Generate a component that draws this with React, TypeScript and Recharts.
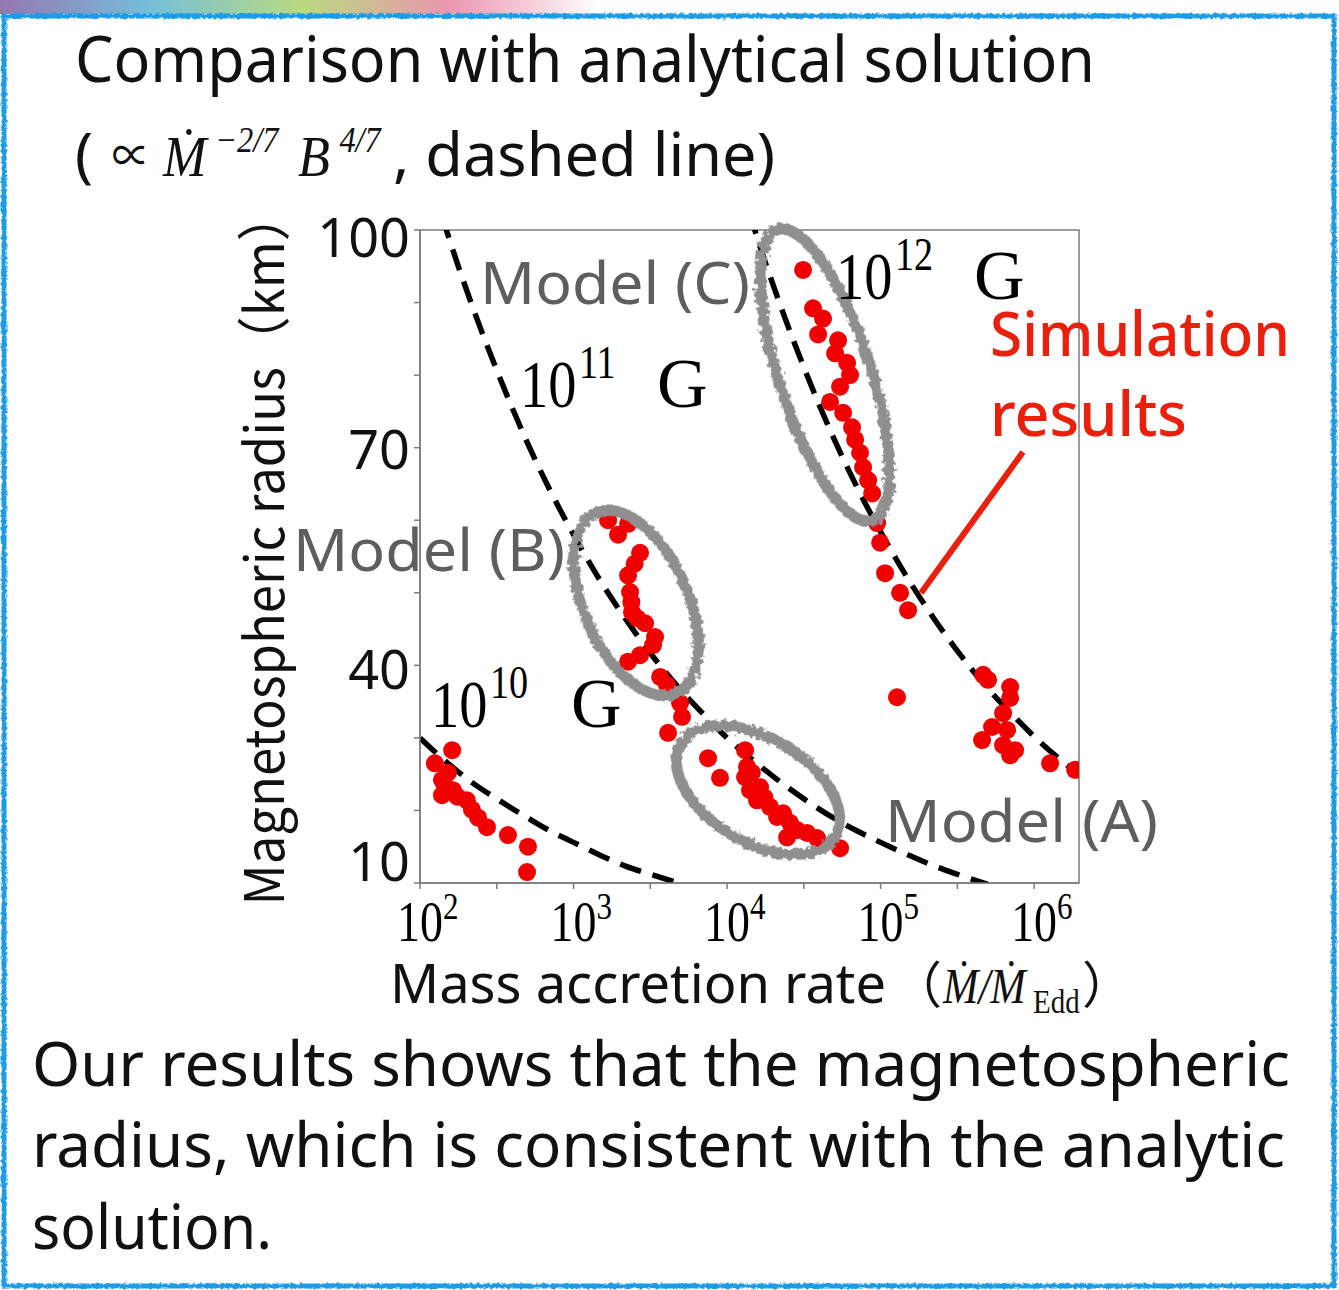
import React from "react";
import {
  ComposedChart,
  Line,
  ReferenceArea,
  ReferenceDot,
  Scatter,
  XAxis,
  YAxis,
} from "recharts";

// mass accretion rate (Mdot / Mdot_Edd) vs magnetospheric radius (km)
const lowFieldPoints = [
  { m: 125, r: 26.5 }, { m: 162, r: 28.3 }, { m: 152, r: 25.2 }, { m: 139, r: 24.2 },
  { m: 145, r: 23.5 }, { m: 139, r: 22.1 }, { m: 164, r: 22.8 }, { m: 175, r: 21.9 },
  { m: 202, r: 21.4 }, { m: 218, r: 20.1 }, { m: 239, r: 19.0 }, { m: 273, r: 17.7 },
  { m: 374, r: 16.6 }, { m: 505, r: 15.0 }, { m: 498, r: 11.5 },
];

const modelBPoints = [
  { m: 1679, r: 60.0 }, { m: 2265, r: 59.5 }, { m: 1950, r: 58.0 }, { m: 2712, r: 55.5 },
  { m: 2500, r: 54.0 }, { m: 2265, r: 52.4 }, { m: 2335, r: 50.1 }, { m: 2380, r: 48.7 },
  { m: 2404, r: 47.3 }, { m: 2600, r: 46.5 }, { m: 2924, r: 45.8 }, { m: 3396, r: 43.9 },
  { m: 3296, r: 42.8 }, { m: 2712, r: 41.4 }, { m: 2265, r: 40.5 }, { m: 3664, r: 38.4 },
  { m: 4064, r: 37.3 }, { m: 4943, r: 34.8 }, { m: 5090, r: 32.9 }, { m: 4130, r: 30.7 },
];

const modelAPoints = [
  { m: 7516, r: 27.2 }, { m: 8995, r: 24.5 }, { m: 13100, r: 28.3 }, { m: 13490, r: 26.0 },
  { m: 14500, r: 25.2 }, { m: 13100, r: 24.6 }, { m: 14120, r: 22.8 }, { m: 15670, r: 21.4 },
  { m: 16400, r: 23.2 }, { m: 17500, r: 21.8 }, { m: 19050, r: 20.5 }, { m: 21180, r: 19.1 },
  { m: 23170, r: 19.6 }, { m: 24600, r: 16.3 }, { m: 25700, r: 18.3 }, { m: 28580, r: 17.3 },
  { m: 33190, r: 16.9 }, { m: 38550, r: 16.2 }, { m: 54450, r: 14.8 },
];

const modelCPoints = [
  { m: 31260, r: 94.5 }, { m: 36310, r: 89.2 }, { m: 42170, r: 87.8 }, { m: 39170, r: 85.6 },
  { m: 52840, r: 84.8 }, { m: 50550, r: 83.0 }, { m: 60530, r: 81.7 }, { m: 63260, r: 80.0 },
  { m: 54450, r: 78.4 }, { m: 46880, r: 76.3 }, { m: 57000, r: 74.8 }, { m: 65160, r: 72.8 },
  { m: 68230, r: 71.1 }, { m: 73470, r: 69.3 }, { m: 76900, r: 67.3 }, { m: 82990, r: 65.5 },
  { m: 88100, r: 63.7 }, { m: 94900, r: 59.6 }, { m: 99300, r: 56.9 }, { m: 106900, r: 52.7 },
  { m: 133900, r: 50.0 }, { m: 151000, r: 47.6 },
];

const highRatePoints = [
  { m: 127900, r: 35.6 }, { m: 465600, r: 38.7 }, { m: 501200, r: 38.0 }, { m: 698000, r: 37.0 },
  { m: 698000, r: 35.5 }, { m: 628000, r: 33.4 }, { m: 532000, r: 31.5 }, { m: 667000, r: 31.1 },
  { m: 458000, r: 29.7 }, { m: 628000, r: 29.0 }, { m: 751600, r: 28.3 }, { m: 698000, r: 27.6 },
  { m: 1270000, r: 26.5 }, { m: 1850000, r: 25.6 },
];

// analytical curves (dashed)
const curve10G = [
  { m: 100, r: 30.0 }, { m: 150, r: 26.6 }, { m: 220, r: 23.8 }, { m: 316, r: 21.6 },
  { m: 500, r: 19.0 }, { m: 700, r: 17.2 }, { m: 1000, r: 15.6 }, { m: 1500, r: 13.8 },
  { m: 2200, r: 12.3 }, { m: 3160, r: 11.2 }, { m: 5000, r: 9.9 },
];

const curve11G = [
  { m: 120, r: 106.3 }, { m: 150, r: 99.7 }, { m: 220, r: 89.4 }, { m: 316, r: 80.7 },
  { m: 500, r: 70.7 }, { m: 700, r: 64.2 }, { m: 1000, r: 58.0 }, { m: 1500, r: 51.6 },
  { m: 2200, r: 46.3 }, { m: 3160, r: 41.7 }, { m: 5000, r: 36.6 }, { m: 7000, r: 33.3 },
  { m: 10000, r: 30.0 }, { m: 15000, r: 26.8 }, { m: 22000, r: 24.0 }, { m: 31600, r: 21.6 },
  { m: 50000, r: 18.9 }, { m: 70000, r: 17.2 }, { m: 100000, r: 15.6 }, { m: 150000, r: 13.9 },
  { m: 220000, r: 12.4 }, { m: 316000, r: 11.2 }, { m: 500000, r: 9.8 },
];

const curve12G = [
  { m: 14000, r: 102.4 }, { m: 15000, r: 100.3 }, { m: 22000, r: 89.9 }, { m: 31600, r: 81.1 },
  { m: 50000, r: 71.1 }, { m: 70000, r: 64.6 }, { m: 100000, r: 58.4 }, { m: 150000, r: 52.0 },
  { m: 220000, r: 46.6 }, { m: 316000, r: 42.0 }, { m: 500000, r: 36.8 }, { m: 700000, r: 33.5 },
  { m: 1000000, r: 30.2 }, { m: 1500000, r: 26.9 }, { m: 2000000, r: 24.8 },
];

const xTicks = [100, 316.2, 1000, 3162, 10000, 31623, 100000, 316228, 1000000];
const xTickExponents = ["2", "", "3", "", "4", "", "5", "", "6"];
const yTicks = [10, 20, 30, 40, 50, 60, 70, 80, 90, 100];
const yTickLabels = ["10", "", "", "40", "", "", "70", "", "", "100"];

// grey hand-drawn rings around groups of runs
const groupRings = [
  { id: "ringB", m: 2553, r: 48.6, rx: 52, ry: 99, angle: -24 },
  { id: "ringC", m: 43450, r: 80.0, rx: 46, ry: 153, angle: -18 },
  { id: "ringA", m: 15920, r: 22.8, rx: 90, ry: 52, angle: 31 },
];

const SANS = "'Noto Sans', 'Noto Sans CJK JP', sans-serif";
const CJK = "'Noto Sans CJK JP', 'Noto Sans', sans-serif";
const SERIF = "'Liberation Serif', 'DejaVu Serif', serif";
const RED = "#f00000";
const AXIS = "#7c7c7c";
const GREY_TEXT = "#5e5e5e";

const yLabelShift = [-21, 0, 0, 5, 0, 0, 2, 0, 0, 8];

function XTick(props: any) {
  const { x, y, index } = props;
  const exp = xTickExponents[index];
  if (!exp) return null;
  return (
    <g transform={`translate(${x - 23},${y + 50}) scale(0.82,1)`}>
      <text x={0} y={0} fontFamily={SERIF} fontSize={56} fill="#000">
        10
        <tspan fontSize={38} dy={-22}>
          {exp}
        </tspan>
      </text>
    </g>
  );
}

function YTick(props: any) {
  const { x, y, index } = props;
  const label = yTickLabels[index];
  if (!label) return null;
  return (
    <text
      x={x - 2}
      y={y + 19 + yLabelShift[index]}
      textAnchor="end"
      fontFamily={SANS}
      fontSize={54}
      fill="#111"
    >
      {label}
    </text>
  );
}

function Dot(props: any) {
  return <circle cx={props.cx} cy={props.cy} r={9} fill={RED} />;
}

function Ring({ cx, cy, id, rx, ry, angle }: any) {
  return (
    <g>
      <defs>
        <filter id={id} x="-20%" y="-20%" width="140%" height="140%">
          <feTurbulence type="fractalNoise" baseFrequency="0.22" numOctaves={2} seed={3} />
          <feDisplacementMap in="SourceGraphic" scale={8} />
        </filter>
      </defs>
      <ellipse
        cx={cx}
        cy={cy}
        rx={rx}
        ry={ry}
        transform={`rotate(${angle} ${cx} ${cy})`}
        fill="none"
        stroke="#8f8f8f"
        strokeWidth={11}
        filter={`url(#${id})`}
      />
    </g>
  );
}

function SerifField({ x, y, exp, gx }: any) {
  // 10^exp G in the slide's condensed serif
  return (
    <g fontFamily={SERIF} fill="#000">
      <g transform={`translate(${x},${y}) scale(0.83,1)`}>
        <text x={0} y={0} fontSize={68}>
          10
          <tspan fontSize={46} dy={-29} dx={3}>
            {exp}
          </tspan>
        </text>
      </g>
      <text x={x + gx} y={y} fontSize={70}>
        G
      </text>
    </g>
  );
}

function SlideText() {
  return (
    <svg
      width={1339}
      height={1290}
      style={{ position: "absolute", left: 0, top: 0, pointerEvents: "none" }}
    >
      <defs>
        <filter id="roughBorder" x="-2%" y="-2%" width="104%" height="104%">
          <feTurbulence type="fractalNoise" baseFrequency="0.3" numOctaves={2} seed={7} />
          <feDisplacementMap in="SourceGraphic" scale={4} />
        </filter>
        <linearGradient id="topStrip" x1="0" x2="1" y1="0" y2="0">
          <stop offset="0" stopColor="#6a3d8f" />
          <stop offset="0.25" stopColor="#3aa3c9" />
          <stop offset="0.5" stopColor="#9bc94a" />
          <stop offset="0.75" stopColor="#e26a8c" />
          <stop offset="1" stopColor="#ffffff" />
        </linearGradient>
      </defs>
      <rect x={0} y={0} width={600} height={14} fill="url(#topStrip)" opacity={0.7} />
      <rect
        x={4}
        y={16}
        width={1330}
        height={1270}
        fill="none"
        stroke="#1c9be6"
        strokeWidth={5}
        filter="url(#roughBorder)"
      />

      {/* heading */}
      <text x={75} y={82} fontFamily={SANS} fontSize={63} fill="#111" textLength={1020} lengthAdjust="spacingAndGlyphs">
        Comparison with analytical solution
      </text>
      <text x={75} y={176} fontFamily={SANS} fontSize={60} fill="#111">
        (
      </text>
      <text x={112} y={172} fontFamily={SANS} fontSize={46} fill="#111" textLength={38} lengthAdjust="spacingAndGlyphs">
        ∝
      </text>
      <g transform="translate(163,176) scale(0.9,1)" fontFamily={SERIF} fontStyle="italic" fill="#111">
        <text x={0} y={0} fontSize={58}>Ṁ</text>
        <text x={58} y={-24} fontSize={36}>−2/7</text>
        <text x={150} y={0} fontSize={58}>B</text>
        <text x={196} y={-24} fontSize={36}>4/7</text>
      </g>
      <text x={393} y={176} fontFamily={SANS} fontSize={60} fill="#111" textLength={382} lengthAdjust="spacingAndGlyphs">
        , dashed line)
      </text>

      {/* axis titles */}
      <text
        transform="translate(284,548) rotate(-90)"
        x={0}
        y={0}
        textAnchor="middle"
        fontFamily={CJK}
        fontSize={54}
        fill="#111"
        textLength={715}
        lengthAdjust="spacingAndGlyphs"
      >
        Magnetospheric radius（km）
      </text>
      <text x={390} y={1003} fontFamily={SANS} fontSize={55} fill="#111" textLength={496} lengthAdjust="spacingAndGlyphs">
        Mass accretion rate
      </text>
      <text x={892} y={1003} fontFamily={CJK} fontSize={50} fill="#111">
        （
      </text>
      <g transform="translate(943,1003) scale(0.85,1)" fontFamily={SERIF} fill="#111">
        <text x={0} y={0} fontSize={50} fontStyle="italic">Ṁ/Ṁ</text>
        <text x={106} y={10} fontSize={34}>Edd</text>
      </g>
      <text x={1082} y={1003} fontFamily={CJK} fontSize={50} fill="#111">
        ）
      </text>

      {/* annotations in the plot */}
      <text x={480} y={304} fontFamily={SANS} fontSize={59} fill={GREY_TEXT} textLength={270} lengthAdjust="spacingAndGlyphs">
        Model (C)
      </text>
      <text x={293} y={571} fontFamily={SANS} fontSize={59} fill={GREY_TEXT} textLength={272} lengthAdjust="spacingAndGlyphs">
        Model (B)
      </text>
      <text x={885} y={842} fontFamily={SANS} fontSize={59} fill={GREY_TEXT} textLength={273} lengthAdjust="spacingAndGlyphs">
        Model (A)
      </text>
      <SerifField x={520} y={407} exp="11" gx={137} />
      <SerifField x={836} y={299} exp="12" gx={138} />
      <SerifField x={431} y={727} exp="10" gx={140} />

      <text x={990} y={356} fontFamily={SANS} fontSize={62} fontWeight={500} fill="#ea1f0c" textLength={300} lengthAdjust="spacingAndGlyphs">
        Simulation
      </text>
      <text x={990} y={436} fontFamily={SANS} fontSize={62} fontWeight={500} fill="#ea1f0c" textLength={197} lengthAdjust="spacingAndGlyphs">
        results
      </text>
      <line x1={1023} y1={452} x2={921} y2={593} stroke="#ea1f0c" strokeWidth={6} />

      {/* caption */}
      <text x={32} y={1086} fontFamily={SANS} fontSize={62} fill="#111" textLength={1258} lengthAdjust="spacingAndGlyphs">
        Our results shows that the magnetospheric
      </text>
      <text x={32} y={1167} fontFamily={SANS} fontSize={62} fill="#111" textLength={1253} lengthAdjust="spacingAndGlyphs">
        radius, which is consistent with the analytic
      </text>
      <text x={32} y={1249} fontFamily={SANS} fontSize={62} fill="#111" textLength={240} lengthAdjust="spacingAndGlyphs">
        solution.
      </text>
    </svg>
  );
}

export default function App() {
  const scatterSets = [lowFieldPoints, modelBPoints, modelAPoints, modelCPoints, highRatePoints];
  const curves = [curve10G, curve11G, curve12G];
  return (
    <div
      style={{
        position: "absolute",
        left: 0,
        top: 0,
        width: 1339,
        height: 1290,
        background: "#fff",
        overflow: "hidden",
      }}
    >
      <div style={{ position: "absolute", left: 0, top: 0 }}>
        <ComposedChart
          width={1339}
          height={1290}
          margin={{ top: 230, right: 260, bottom: 287, left: 300 }}
        >
          <XAxis
            dataKey="m"
            type="number"
            scale="log"
            domain={[100, 1960000]}
            allowDataOverflow
            ticks={xTicks}
            interval={0}
            height={120}
            tickSize={6}
            tick={(p: any) => <XTick {...p} />}
            axisLine={{ stroke: AXIS, strokeWidth: 1.5 }}
            tickLine={{ stroke: AXIS, strokeWidth: 1.5 }}
          />
          <YAxis
            dataKey="r"
            type="number"
            domain={[10, 100]}
            allowDataOverflow
            ticks={yTicks}
            interval={0}
            width={120}
            tickSize={6}
            tick={(p: any) => <YTick {...p} />}
            axisLine={{ stroke: AXIS, strokeWidth: 1.5 }}
            tickLine={{ stroke: AXIS, strokeWidth: 1.5 }}
          />
          <ReferenceArea
            x1={100}
            x2={1960000}
            y1={10}
            y2={100}
            fill="none"
            stroke={AXIS}
            strokeWidth={1.5}
          />
          {curves.map((c, i) => (
            <Line
              key={`curve-${i}`}
              data={c}
              dataKey="r"
              type="monotone"
              stroke="#000"
              strokeWidth={5.5}
              strokeDasharray="22 12"
              dot={false}
              activeDot={false}
              isAnimationActive={false}
            />
          ))}
          {scatterSets.map((s, i) => (
            <Scatter
              key={`runs-${i}`}
              data={s}
              dataKey="r"
              shape={(p: any) => <Dot {...p} />}
              isAnimationActive={false}
            />
          ))}
          {groupRings.map((g) => (
            <ReferenceDot
              key={g.id}
              x={g.m}
              y={g.r}
              ifOverflow="visible"
              shape={(p: any) => <Ring {...p} id={g.id} rx={g.rx} ry={g.ry} angle={g.angle} />}
            />
          ))}
        </ComposedChart>
      </div>
      <SlideText />
    </div>
  );
}
